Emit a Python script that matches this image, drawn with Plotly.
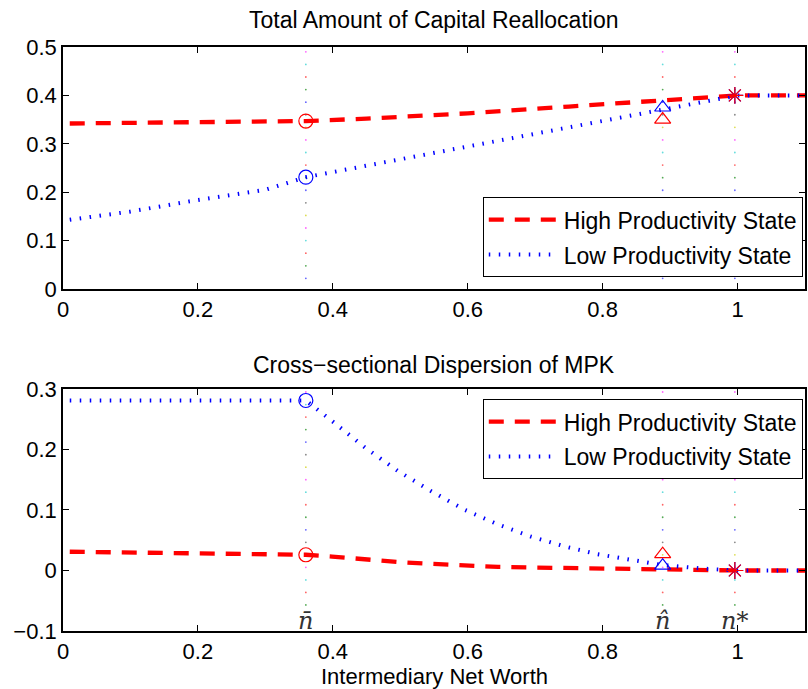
import numpy as np
import plotly.graph_objects as go

# ---------------- data ----------------
x_top = [0.01, 0.10, 0.20, 0.30, 0.36, 0.45, 0.60, 0.75, 0.889, 1.00, 1.10]
hi_top = [0.342, 0.343, 0.344, 0.345, 0.347, 0.352, 0.363, 0.377, 0.391, 0.400, 0.400]
lo_top = [0.143, 0.160, 0.184, 0.205, 0.231, 0.255, 0.294, 0.334, 0.370, 0.400, 0.400]

x_bot = [0.01, 0.10, 0.20, 0.30, 0.36, 0.399, 0.448, 0.497, 0.546, 0.596, 0.645,
         0.694, 0.743, 0.792, 0.842, 0.889, 0.95, 1.00, 1.10]
hi_bot = [0.031, 0.030, 0.029, 0.028, 0.026, 0.023, 0.018, 0.014, 0.011, 0.008, 0.006,
          0.005, 0.004, 0.003, 0.002, 0.001, 0.0005, 0.0, 0.0]
lo_bot = [0.281, 0.281, 0.281, 0.281, 0.281, 0.247, 0.203, 0.164, 0.131, 0.100, 0.076,
          0.056, 0.040, 0.027, 0.017, 0.009, 0.003, 0.0, 0.0]

# special points: n_bar, n_hat, n_star
n_marks = [0.36, 0.889, 0.996]
n_labels = ["n\u0304", "n\u0302", "n*"]
hi_top_marks = [0.347, 0.350, 0.400]
lo_top_marks = [0.231, 0.375, 0.400]
hi_bot_marks = [0.026, 0.027, 0.0]
lo_bot_marks = [0.281, 0.008, 0.0]
mark_symbols = ["circle-open", "triangle-up-open", "asterisk-open"]

top_title = "Total Amount of Capital Reallocation"
bot_title = "Cross\u2212sectional Dispersion of MPK"
x_label = "Intermediary Net Worth"
series_names = ["High Productivity State", "Low Productivity State"]

RED = "#ff0000"
BLUE = "#0000ff"
FONT = "Liberation Sans, Arial, sans-serif"
dot_colors = ["#ff66ff", "#66dddd", "#ff6666", "#55aa55", "#6666ff", "#888888", "#dddd55"]

fig = go.Figure()

def add_panel(xs, hi, lo, him, lom, xa, ya, legend, vspan, vstep):
    # vertical multicolour dotted guide lines
    ys = np.arange(vspan[0], vspan[1], -vstep)
    for xv in n_marks:
        fig.add_trace(go.Scatter(
            x=[xv] * len(ys), y=ys, mode="markers", xaxis=xa, yaxis=ya,
            marker=dict(size=1.8, color=[dot_colors[i % len(dot_colors)] for i in range(len(ys))]),
            showlegend=False, hoverinfo="skip"))
    fig.add_trace(go.Scatter(
        x=xs, y=hi, mode="lines", name=series_names[0], xaxis=xa, yaxis=ya,
        line=dict(color=RED, width=4.3, dash="15px,11px"), legend=legend, legendgroup="a"))
    fig.add_trace(go.Scatter(
        x=xs, y=lo, mode="lines", name=series_names[1], xaxis=xa, yaxis=ya,
        line=dict(color=BLUE, width=4, dash="1.5px,8.5px"), legend=legend, legendgroup="b"))
    fig.add_trace(go.Scatter(
        x=n_marks, y=lom, mode="markers", xaxis=xa, yaxis=ya, showlegend=False,
        marker=dict(symbol=mark_symbols, size=14, color=BLUE, line=dict(width=1.2, color=BLUE))))
    fig.add_trace(go.Scatter(
        x=n_marks, y=him, mode="markers", xaxis=xa, yaxis=ya, showlegend=False,
        marker=dict(symbol=mark_symbols, size=14, color=RED, line=dict(width=1.2, color=RED))))

add_panel(x_top, hi_top, lo_top, hi_top_marks, lo_top_marks, "x", "y", "legend", (0.49, 0.015), 0.026)
add_panel(x_bot, hi_bot, lo_bot, hi_bot_marks, lo_bot_marks, "x2", "y2", "legend2", (0.295, -0.065), 0.0207)

axis_common = dict(
    showgrid=False, zeroline=False, showline=True, linecolor="black", linewidth=1.6,
    mirror="ticks", ticks="inside", ticklen=6, tickcolor="black", tickwidth=1,
    tickfont=dict(family=FONT, size=22, color="black"))

xt = [0, 0.2, 0.4, 0.6, 0.8, 1]
xt_text = ["0", "0.2", "0.4", "0.6", "0.8", "1"]

fig.update_layout(
    width=808, height=689,
    margin=dict(l=63, r=1, t=47, b=58),
    paper_bgcolor="white", plot_bgcolor="white",
    xaxis=dict(domain=[0, 1], range=[0, 1.1], anchor="y", tickvals=xt, ticktext=xt_text, **axis_common),
    yaxis=dict(domain=[0.5856, 1], range=[0, 0.5], anchor="x", tickvals=[0, 0.1, 0.2, 0.3, 0.4, 0.5],
               ticktext=["0", "0.1", "0.2", "0.3", "0.4", "0.5"], **axis_common),
    xaxis2=dict(domain=[0, 1], range=[0, 1.1], anchor="y2", tickvals=xt, ticktext=xt_text, **axis_common),
    yaxis2=dict(domain=[0, 0.4144], range=[-0.1, 0.3], anchor="x2", tickvals=[-0.1, 0, 0.1, 0.2, 0.3],
                ticktext=["\u22120.1", "0", "0.1", "0.2", "0.3"], **axis_common),
    legend=dict(x=0.997, xanchor="right", y=0.6057, yanchor="bottom",
                bgcolor="white", bordercolor="black", borderwidth=1,
                font=dict(family=FONT, size=23, color="black"), itemwidth=70,
                tracegroupgap=2, traceorder="grouped"),
    legend2=dict(x=0.997, xanchor="right", y=0.397, yanchor="top",
                 bgcolor="white", bordercolor="black", borderwidth=1,
                 font=dict(family=FONT, size=23, color="black"), itemwidth=70,
                 tracegroupgap=2, traceorder="grouped"),
    showlegend=True,
)

annotations = [
    dict(text=top_title, x=0.5, y=1.0462, xref="paper", yref="paper", showarrow=False,
         xanchor="center", yanchor="middle", font=dict(family=FONT, size=23, color="black")),
    dict(text=bot_title, x=0.5, y=0.4555, xref="paper", yref="paper", showarrow=False,
         xanchor="center", yanchor="middle", font=dict(family=FONT, size=23, color="black")),
    dict(text=x_label, x=0.5, y=-0.0771, xref="paper", yref="paper", showarrow=False,
         xanchor="center", yanchor="middle", font=dict(family=FONT, size=22, color="black")),
]
for xv, lab in zip(n_marks, n_labels):
    annotations.append(dict(text="<i>" + lab + "</i>", x=xv, y=-0.1, xref="x2", yref="y2",
                            showarrow=False, xanchor="center", yanchor="bottom", yshift=-6,
                            font=dict(family="DejaVu Serif, Liberation Serif, serif", size=24, color="#333333")))
fig.update_layout(annotations=annotations)

fig.write_html("out.html")
